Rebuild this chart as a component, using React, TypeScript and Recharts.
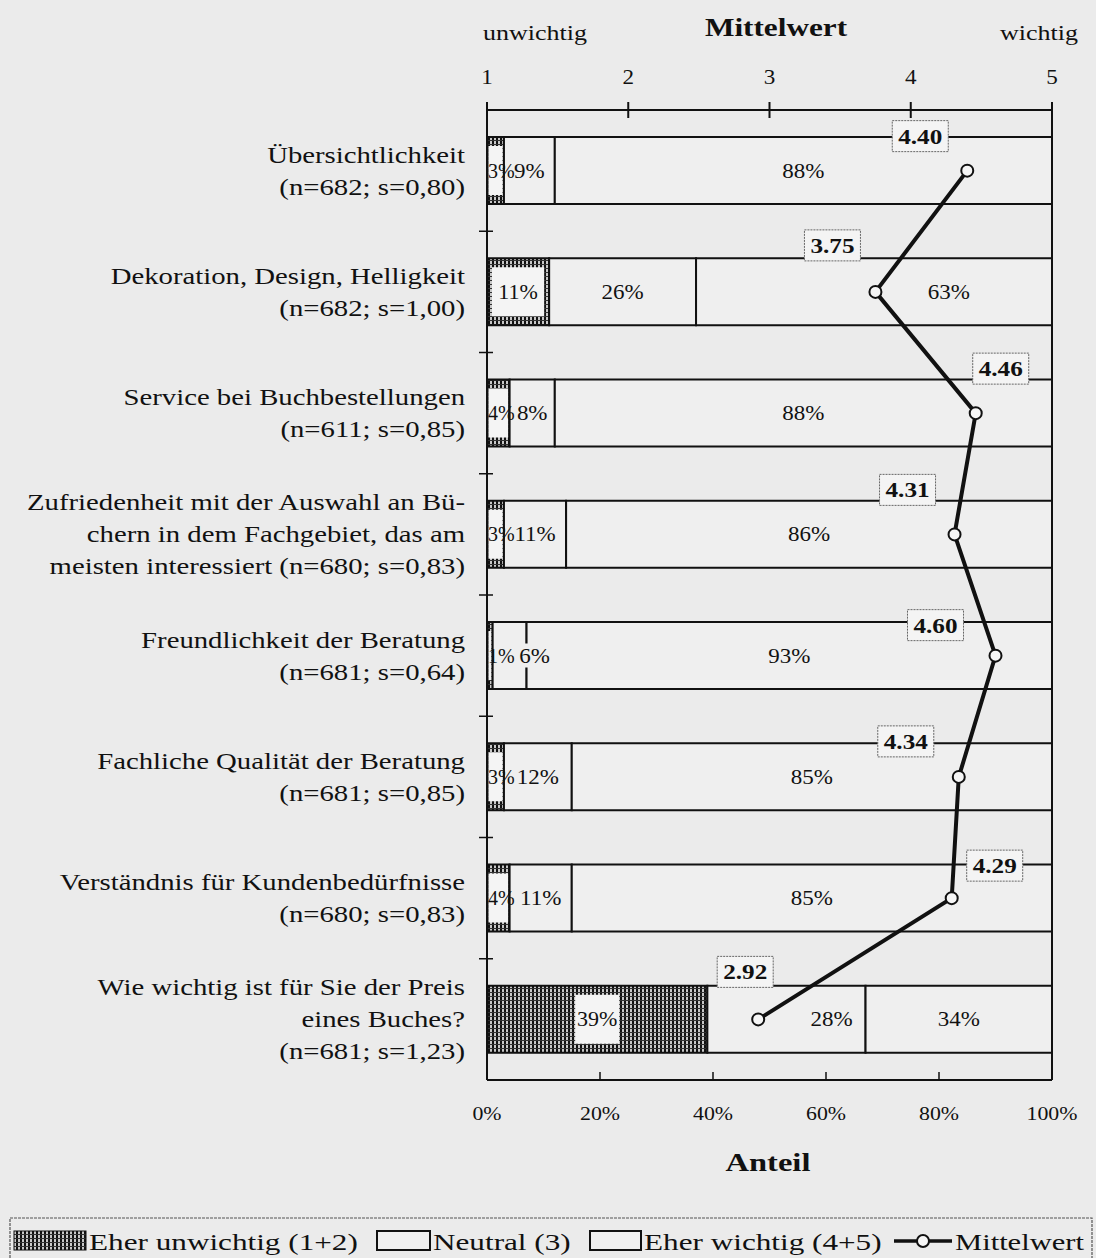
import { ComposedChart, Bar, Line, XAxis, YAxis, LabelList, ReferenceLine } from "recharts";

document.body.style.margin = "0";

const categories = [
    "Übersichtlichkeit\n(n=682; s=0,80)",
    "Dekoration, Design, Helligkeit\n(n=682; s=1,00)",
    "Service bei Buchbestellungen\n(n=611; s=0,85)",
    "Zufriedenheit mit der Auswahl an Bü-\nchern in dem Fachgebiet, das am\nmeisten interessiert (n=680; s=0,83)",
    "Freundlichkeit der Beratung\n(n=681; s=0,64)",
    "Fachliche Qualität der Beratung\n(n=681; s=0,85)",
    "Verständnis für Kundenbedürfnisse\n(n=680; s=0,83)",
    "Wie wichtig ist für Sie der Preis\neines Buches?\n(n=681; s=1,23)",
];
const unwichtig = [3, 11, 4, 3, 1, 3, 4, 39];
const neutral = [9, 26, 8, 11, 6, 12, 11, 28];
const wichtig = [88, 63, 88, 86, 93, 85, 85, 34];
const mittelwert = [4.4, 3.75, 4.46, 4.31, 4.6, 4.34, 4.29, 2.92];

const meanTicks = [1, 2, 3, 4, 5];
const pctTicks = [0, 20, 40, 60, 80, 100];

// where the boxed mean labels sit relative to their point (styling only)
const meanLabelDx = [-47, -43, 25, -47, -60, -53, 43, -13];
const meanLabelDy = [-35, -47, -45, -45, -31, -36, -33, -48];

const data = categories.map((name, i) => ({
    name,
    unwichtig: unwichtig[i],
    neutral: neutral[i],
    wichtig: wichtig[i],
    mean: mittelwert[i],
}));

const BG = "#ebebeb";
const BAR = "#efefef";
const INK = "#111";
const FONT = "'Liberation Serif', 'Times New Roman', serif";

// the scanned type is wide, so glyphs get stretched horizontally
const SText = ({ x, y, anchor = "start", size, weight = 400, sx = 1.3, children }: any) => (
    <text
        transform={`translate(${x},${y}) scale(${sx},1)`}
        textAnchor={anchor}
        fontSize={size}
        fontWeight={weight}
        fontFamily={FONT}
        fill={INK}
    >
        {children}
    </text>
);

const box = (p: any) => {
    const vb = p.viewBox && p.viewBox.width !== undefined ? p.viewBox : p;
    return { x: Number(vb.x), y: Number(vb.y), width: Number(vb.width || 0), height: Number(vb.height || 0) };
};

const CatTick = (props: any) => {
    const { x, y, payload, index } = props;
    const lines = String(payload.value).split("\n");
    const half = payload.offset ?? 60;
    const axisX = x + 22;
    return (
        <g>
            {lines.map((l: string, i: number) => (
                <SText key={i} x={x} y={y + (i - (lines.length - 1) / 2) * 32 + 8} anchor="end" size={23} sx={1.25}>
                    {l}
                </SText>
            ))}
            {index < categories.length - 1 && (
                <line x1={axisX - 8} x2={axisX + 6} y1={y + half} y2={y + half} stroke={INK} strokeWidth={1.5} />
            )}
        </g>
    );
};

const MeanTick = (props: any) => {
    const { x, y, payload } = props;
    const axisY = y + 8 + 18;
    return (
        <g>
            <line x1={x} x2={x} y1={axisY - 8} y2={axisY + 8} stroke={INK} strokeWidth={2} />
            <SText x={x} y={y} anchor="middle" size={21} sx={1.1}>
                {payload.value}
            </SText>
        </g>
    );
};

const PctTick = (props: any) => {
    const { x, y, payload } = props;
    const axisY = y - 40;
    return (
        <g>
            <line x1={x} x2={x} y1={axisY} y2={axisY - 8} stroke={INK} strokeWidth={1.5} />
            <SText x={x} y={y} anchor="middle" size={19} sx={1.15}>
                {`${payload.value}%`}
            </SText>
        </g>
    );
};

const HatchLabel = (props: any) => {
    const { x, y, width, height } = box(props);
    const narrow = width < 30;
    const cx = x + width / 2;
    const cy = y + height / 2;
    const bw = narrow ? width - 3 : width < 80 ? width - 10 : 44;
    const bh = height - 18;
    return (
        <g>
            <rect x={cx - bw / 2} y={cy - bh / 2} width={bw} height={bh} fill="#f4f4f4" />
            <SText
                x={narrow ? x + 1 : cx}
                y={cy + 7}
                anchor={narrow ? "start" : "middle"}
                size={20}
                sx={narrow ? 1.0 : 1.1}
            >
                {`${props.value}%`}
            </SText>
        </g>
    );
};

// percentage label for the plain segments; it steps aside from the mean point like the print does
const makePlainLabel = (key: "neutral" | "wichtig") => (props: any) => {
    const { x, y, width, height } = box(props);
    const i = props.index;
    const ppp = width / Number(props.value);
    const before = key === "neutral" ? unwichtig[i] : unwichtig[i] + neutral[i];
    const left = x - before * ppp;
    const meanPct = (mittelwert[i] - 1) * 25;
    let cx = width < 40 ? x + width + 8 : x + width / 2;
    const cPct = (cx - left) / ppp;
    if (Math.abs(cPct - meanPct) < 8) cx = left + (meanPct + 13) * ppp;
    const cy = y + height / 2;
    const txt = `${props.value}%`;
    const tw = txt.length * 0.55 * 20 * 1.15;
    return (
        <g>
            <rect x={cx - tw / 2} y={cy - 12} width={tw} height={24} fill={BAR} />
            <SText x={cx} y={cy + 7} anchor="middle" size={20} sx={1.15}>
                {txt}
            </SText>
        </g>
    );
};
const NeutralLabel = makePlainLabel("neutral");
const WichtigLabel = makePlainLabel("wichtig");

const MeanLabel = (props: any) => {
    const { x, y } = box(props);
    const i = props.index;
    const cx = x + meanLabelDx[i];
    const cy = y + meanLabelDy[i];
    return (
        <g>
            <rect x={cx - 28} y={cy - 15} width={56} height={31} fill="#f4f4f4" stroke="#666" strokeWidth={1} strokeDasharray="2 1" />
            <SText x={cx} y={cy + 8} anchor="middle" size={21} weight={700} sx={1.2}>
                {Number(props.value).toFixed(2)}
            </SText>
        </g>
    );
};

export default function App() {
    return (
        <div style={{ position: "relative", width: 1096, height: 1258, background: BG, overflow: "hidden" }}>
            <svg width={0} height={0} style={{ position: "absolute" }}>
                <defs>
                    <pattern id="hatch" width="4" height="4" patternUnits="userSpaceOnUse">
                        <rect width="4" height="4" fill="#c8c8c8" />
                        <rect x="0" width="2" height="4" fill="#111" />
                        <rect y="0" width="4" height="1" fill="#333" />
                    </pattern>
                </defs>
            </svg>
            <ComposedChart
                width={1096}
                height={1210}
                data={data}
                layout="vertical"
                margin={{ top: 0, right: 44, bottom: 0, left: 0 }}
            >
                <XAxis
                    xAxisId="mean"
                    orientation="top"
                    type="number"
                    domain={[1, 5]}
                    ticks={meanTicks}
                    interval={0}
                    height={110}
                    tickSize={8}
                    tickMargin={18}
                    tickLine={false}
                    axisLine={{ stroke: INK, strokeWidth: 2 }}
                    tick={MeanTick}
                />
                <XAxis
                    xAxisId="pct"
                    orientation="bottom"
                    type="number"
                    domain={[0, 100]}
                    allowDataOverflow
                    ticks={pctTicks}
                    interval={0}
                    height={130}
                    tickSize={0}
                    tickMargin={40}
                    tickLine={false}
                    axisLine={{ stroke: INK, strokeWidth: 2 }}
                    tick={PctTick}
                />
                <YAxis
                    yAxisId="cat"
                    type="category"
                    dataKey="name"
                    width={487}
                    interval={0}
                    tickSize={0}
                    tickMargin={22}
                    tickLine={false}
                    axisLine={{ stroke: INK, strokeWidth: 2 }}
                    tick={CatTick}
                />
                <Bar
                    dataKey="unwichtig"
                    stackId="s"
                    xAxisId="pct"
                    yAxisId="cat"
                    barSize={67}
                    fill="url(#hatch)"
                    stroke={INK}
                    strokeWidth={2}
                    isAnimationActive={false}
                >
                    <LabelList dataKey="unwichtig" content={HatchLabel} />
                </Bar>
                <Bar
                    dataKey="neutral"
                    stackId="s"
                    xAxisId="pct"
                    yAxisId="cat"
                    barSize={67}
                    fill={BAR}
                    stroke={INK}
                    strokeWidth={2}
                    isAnimationActive={false}
                >
                    <LabelList dataKey="neutral" content={NeutralLabel} />
                </Bar>
                <Bar
                    dataKey="wichtig"
                    stackId="s"
                    xAxisId="pct"
                    yAxisId="cat"
                    barSize={67}
                    fill={BAR}
                    stroke={INK}
                    strokeWidth={2}
                    isAnimationActive={false}
                >
                    <LabelList dataKey="wichtig" content={WichtigLabel} />
                </Bar>
                <ReferenceLine x={100} xAxisId="pct" yAxisId="cat" stroke={INK} strokeWidth={2} />
                <Line
                    dataKey="mean"
                    xAxisId="mean"
                    yAxisId="cat"
                    stroke={INK}
                    strokeWidth={4}
                    dot={{ r: 6, fill: "#f6f6f6", stroke: INK, strokeWidth: 2 }}
                    isAnimationActive={false}
                >
                    <LabelList dataKey="mean" content={MeanLabel} />
                </Line>
            </ComposedChart>

            {/* Titel und Achsenbeschriftungen */}
            <svg width={1096} height={1258} style={{ position: "absolute", left: 0, top: 0, pointerEvents: "none" }}>
                <SText x={483} y={40} size={20}>unwichtig</SText>
                <SText x={776} y={36} anchor="middle" size={25} weight={700} sx={1.25}>Mittelwert</SText>
                <SText x={1078} y={40} anchor="end" size={20}>wichtig</SText>
                <SText x={768} y={1171} anchor="middle" size={26} weight={700} sx={1.25}>Anteil</SText>

                {/* Legende */}
                <g transform="translate(0,1210)">
                    <rect x={10} y={8} width={1082} height={70} fill="none" stroke="#555" strokeWidth={1.2} strokeDasharray="3 1" />
                    <rect x={14} y={21} width={72} height={19} fill="url(#hatch)" stroke={INK} strokeWidth={1} />
                    <SText x={89} y={40} size={24}>Eher unwichtig (1+2)</SText>
                    <rect x={377} y={21} width={53} height={19} fill={BAR} stroke={INK} strokeWidth={2} />
                    <SText x={433} y={40} size={24}>Neutral (3)</SText>
                    <rect x={590} y={21} width={51} height={19} fill={BAR} stroke={INK} strokeWidth={2} />
                    <SText x={644} y={40} size={24}>Eher wichtig (4+5)</SText>
                    <line x1={894} x2={952} y1={31} y2={31} stroke={INK} strokeWidth={3.5} />
                    <circle cx={923} cy={31} r={6} fill="#f6f6f6" stroke={INK} strokeWidth={2} />
                    <SText x={955} y={40} size={23.5}>Mittelwert</SText>
                </g>
            </svg>
        </div>
    );
}
